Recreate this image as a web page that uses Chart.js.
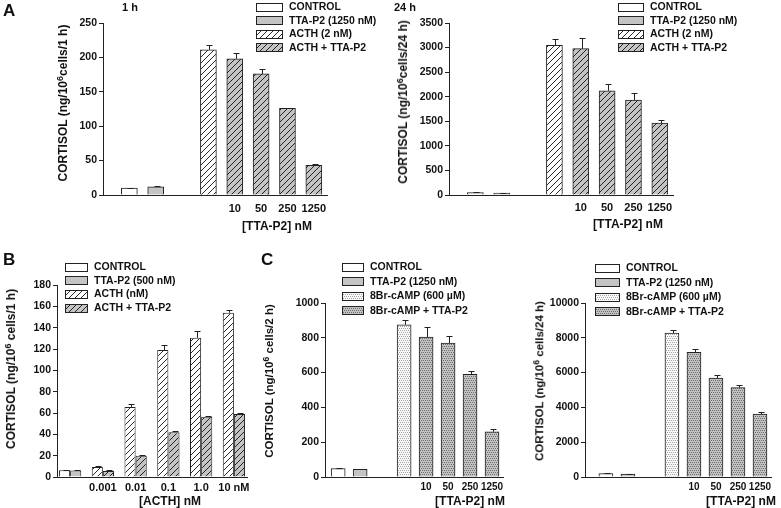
<!DOCTYPE html>
<html>
<head>
<meta charset="utf-8">
<script src="https://cdn.jsdelivr.net/npm/chart.js@4.4.0/dist/chart.umd.min.js"></script>
<style>
  body { margin: 0; background: #fff; }
  #page { position: relative; width: 781px; height: 508px; overflow: hidden;
    font-family: "Liberation Sans", Arial, sans-serif; font-weight: bold; color: #111; }
  #page canvas.plot { position: absolute; }
  .t { position: absolute; white-space: nowrap; line-height: 1; transform: translate(-50%, -50%); }
  .yt { position: absolute; white-space: nowrap; line-height: 1; transform: translate(-50%, -50%) rotate(-90deg); }
  .yt sup { font-size: 75%; vertical-align: 0; position: relative; top: -0.45em; }
  .letter { position: absolute; font-size: 17px; line-height: 1; }
  .leg { position: absolute; font-size: 10.5px; line-height: 1; white-space: nowrap; }
  .leg canvas { position: absolute; left: 0; }
  .leg span { position: absolute; }
</style>
</head>
<body>
<div id="page">
  <canvas class="plot" id="chartA1"></canvas>
  <canvas class="plot" id="chartA24"></canvas>
  <canvas class="plot" id="chartB"></canvas>
  <canvas class="plot" id="chartC2"></canvas>
  <canvas class="plot" id="chartC24"></canvas>

  <div class="letter" style="left:3px;top:2px">A</div>
  <div class="letter" style="left:3px;top:251px">B</div>
  <div class="letter" style="left:261px;top:251px">C</div>

  <div class="t" style="left:130px;top:7px;font-size:11px">1 h</div>
  <div class="t" style="left:405px;top:7px;font-size:11px">24 h</div>

  <div class="yt" style="left:63px;top:103px;font-size:12px">CORTISOL (ng/10<sup>6</sup>cells/1 h)</div>
  <div class="yt" style="left:403px;top:102px;font-size:12px">CORTISOL (ng/10<sup>6</sup>cells/24 h)</div>
  <div class="yt" style="left:11px;top:369px;font-size:12px">CORTISOL (ng/10<sup>6</sup> cells/1 h)</div>
  <div class="yt" style="left:270px;top:381px;font-size:11.5px">CORTISOL (ng/10<sup>6</sup> cells/2 h)</div>
  <div class="yt" style="left:540px;top:381px;font-size:11.5px">CORTISOL (ng/10<sup>6</sup> cells/24 h)</div>

  <div class="t" style="left:277px;top:226px;font-size:12px">[TTA-P2] nM</div>
  <div class="t" style="left:628px;top:224px;font-size:12px">[TTA-P2] nM</div>
  <div class="t" style="left:170px;top:501px;font-size:12px">[ACTH] nM</div>
  <div class="t" style="left:470px;top:501px;font-size:12px">[TTA-P2] nM</div>
  <div class="t" style="left:741px;top:501px;font-size:12px">[TTA-P2] nM</div>
</div>

<script>
// ---- data ----
// panel A: slots along the x axis (null = gap)
const aTickLabels = ['', '', '', '', '10', '50', '250', '1250']
const aSeriesNames = ['CONTROL', 'TTA-P2 (1250 nM)', 'ACTH (2 nM)', 'ACTH + TTA-P2']
const aSlotSeries = [0, 1, null, 2, 3, 3, 3, 3]
const a1hValues = [10.2, 12, null, 211, 198, 176, 126, 43]
const a1hErrors = [0.6, 0.6, null, 7, 8, 7.5, 1, 2.3]
const a24hValues = [48, 41, null, 3045, 2977, 2120, 1930, 1461]
const a24hErrors = [8, 8, null, 135, 217, 143, 143, 68]

// panel B: pairs of bars per ACTH dose
const bTickLabels = ['', '0.001', '0.01', '0.1', '1.0', '10 nM']
const bSeriesNames = ['CONTROL', 'TTA-P2 (500 nM)', 'ACTH (nM)', 'ACTH + TTA-P2']
const bLeftSeries = [0, 2, 2, 2, 2, 2]
const bRightSeries = [1, 3, 3, 3, 3, 3]
const bLeftValues = [6.3, 9.4, 65.7, 119, 130.5, 154]
const bLeftErrors = [0.3, 0.9, 2.3, 5, 6.5, 3]
const bRightValues = [6, 5.6, 20, 42, 56.4, 59]
const bRightErrors = [0.3, 0.6, 0.5, 1, 0.6, 1.4]

// panel C
const cTickLabels = ['', '', '', '', '10', '50', '250', '1250']
const cSeriesNames = ['CONTROL', 'TTA-P2 (1250 nM)', '8Br-cAMP (600 \u00b5M)', '8Br-cAMP + TTA-P2']
const cSlotSeries = [0, 1, null, 2, 3, 3, 3, 3]
const c2hValues = [48, 44, null, 875, 804, 769, 590, 260]
const c2hErrors = [3, 2, null, 25, 56, 42, 20, 15]
const c24hValues = [192, 173, null, 8270, 7170, 5690, 5135, 3615]
const c24hErrors = [10, 10, null, 150, 180, 180, 135, 95]

// ---- fills ----
function hatch(bg) {
  const c = document.createElement('canvas')
  c.width = 6; c.height = 6
  const g = c.getContext('2d')
  g.fillStyle = bg
  g.fillRect(0, 0, 6, 6)
  g.strokeStyle = '#111'
  g.lineWidth = 0.9
  g.beginPath()
  g.moveTo(-1, 7); g.lineTo(7, -1)
  g.moveTo(-1, 1); g.lineTo(1, -1)
  g.moveTo(5, 7); g.lineTo(7, 5)
  g.stroke()
  return g.createPattern(c, 'repeat')
}
// stipple: dots on a staggered 2px grid
function dots(bg, fg) {
  const c = document.createElement('canvas')
  c.width = 4; c.height = 4
  const g = c.getContext('2d')
  g.fillStyle = bg
  g.fillRect(0, 0, 4, 4)
  g.fillStyle = fg
  g.fillRect(0, 0, 1, 1)
  g.fillRect(2, 0, 1, 1)
  g.fillRect(1, 2, 1, 1)
  g.fillRect(3, 2, 1, 1)
  return g.createPattern(c, 'repeat')
}
const GREY = '#c4c4c4'
const hatchFills = ['#ffffff', GREY, hatch('#ffffff'), hatch(GREY)]
const dotFills = ['#ffffff', GREY, dots('#f8f8f8', '#a8a8a8'), dots('#c2c2c2', '#707070')]

// ---- error bars drawn on top of bars ----
const errorBars = {
  id: 'errorBars',
  afterDatasetsDraw(chart) {
    const ctx = chart.ctx
    const yScale = chart.scales.y
    ctx.save()
    ctx.strokeStyle = '#222'
    ctx.lineWidth = 1
    chart.data.datasets.forEach((ds, di) => {
      const meta = chart.getDatasetMeta(di)
      meta.data.forEach((bar, i) => {
        const p = ds.data[i]
        const e = ds.errors[i]
        if (!p || !e) return
        const x = Math.round(bar.x) + 1.5
        const top = Math.round(yScale.getPixelForValue(p.y + e)) + 0.5
        ctx.beginPath()
        ctx.moveTo(x, bar.y)
        ctx.lineTo(x, top)
        ctx.moveTo(x - 3, top)
        ctx.lineTo(x + 3, top)
        ctx.stroke()
      })
    })
    ctx.restore()
  }
}

// one dataset per series, points placed at their slot
function slotDatasets(names, slotSeries, values, errors, fills, thickness) {
  return names.map((name, s) => {
    const data = [], errs = []
    slotSeries.forEach((k, i) => {
      if (k === s && values[i] !== null) {
        data.push({x: i + 1, y: values[i]})
        errs.push(errors[i])
      }
    })
    return {
      label: name, data, errors: errs,
      backgroundColor: fills[s], borderColor: '#222', borderWidth: 1,
      grouped: false, barThickness: thickness
    }
  })
}

function pairDatasets() {
  const out = []
  bSeriesNames.forEach((name, s) => {
    const data = [], errs = []
    let stack = 'L'
    bLeftSeries.forEach((k, i) => {
      if (k === s) { data.push({x: i + 1, y: bLeftValues[i]}); errs.push(bLeftErrors[i]) }
    })
    bRightSeries.forEach((k, i) => {
      if (k === s) { data.push({x: i + 1, y: bRightValues[i]}); errs.push(bRightErrors[i]); stack = 'R' }
    })
    out.push({
      label: name, data, errors: errs, stack,
      backgroundColor: hatchFills[s], borderColor: '#222', borderWidth: 1,
      categoryPercentage: 0.68, barPercentage: 1
    })
  })
  return out
}

const fam = '"Liberation Sans", Arial, sans-serif'
const yFont = {family: fam, weight: 'bold', size: 10.5}

// box = canvas [left, top, w, h] on page, area = wanted plot area [l, t, r, b]
function makeChart(id, box, area, datasets, xMin, xMax, tickLabels, yMax, yStep, xPad, xFontSize) {
  const cv = document.getElementById(id)
  cv.style.left = box[0] + 'px'
  cv.style.top = box[1] + 'px'
  cv.width = box[2]
  cv.height = box[3]
  return new Chart(cv, {
    type: 'bar',
    data: {datasets},
    options: {
      responsive: false,
      animation: false,
      layout: {padding: {left: 0, top: area[1] - box[1], right: box[0] + box[2] - area[2], bottom: 0}},
      plugins: {legend: {display: false}, tooltip: {enabled: false}},
      scales: {
        x: {
          type: 'linear', min: xMin, max: xMax, offset: false,
          grid: {display: false, drawTicks: false},
          border: {display: true, color: '#222', width: 1},
          ticks: {
            font: {family: fam, weight: 'bold', size: xFontSize},
            color: '#111', padding: xPad, autoSkip: false, maxRotation: 0,
            callback: v => tickLabels[v - 1]
          },
          afterBuildTicks: s => {
            s.ticks = tickLabels.map((l, i) => ({value: i + 1})).filter(t => tickLabels[t.value - 1] !== '')
          },
          afterFit: s => { s.height = box[1] + box[3] - area[3] }
        },
        y: {
          min: 0, max: yMax,
          grid: {drawOnChartArea: false, drawTicks: true, tickLength: 4, color: '#222'},
          border: {display: true, color: '#222', width: 1},
          ticks: {stepSize: yStep, font: yFont, color: '#111', padding: 2, callback: v => String(v)},
          afterFit: s => { s.width = area[0] - box[0] }
        }
      }
    },
    plugins: [errorBars]
  })
}

makeChart('chartA1', [0, 0, 335, 240], [103, 23, 327, 195],
  slotDatasets(aSeriesNames, aSlotSeries, a1hValues, a1hErrors, hatchFills, 16),
  0, 8.5, aTickLabels, 250, 50, 7, 11)
makeChart('chartA24', [390, 0, 300, 240], [449, 23, 673, 195],
  slotDatasets(aSeriesNames, aSlotSeries, a24hValues, a24hErrors, hatchFills, 16),
  0, 8.5, aTickLabels, 3500, 500, 6, 11)
makeChart('chartB', [0, 250, 262, 258], [57, 285, 247, 477],
  pairDatasets(), 0.6, 6.4, bTickLabels, 180, 20, 4, 11)
makeChart('chartC2', [280, 250, 230, 258], [325, 303, 503, 477],
  slotDatasets(cSeriesNames, cSlotSeries, c2hValues, c2hErrors, dotFills, 14),
  0.4, 8.5, cTickLabels, 1000, 200, 4, 10)
makeChart('chartC24', [540, 250, 241, 258], [585, 303, 771, 477],
  slotDatasets(cSeriesNames, cSlotSeries, c24hValues, c24hErrors, dotFills, 14),
  0.05, 8.5, cTickLabels, 10000, 2000, 4, 10)

// ---- legends (html text, swatches filled with the same patterns) ----
function makeLegend(left, top, gap, swW, names, fills) {
  const page = document.getElementById('page')
  const box = document.createElement('div')
  box.className = 'leg'
  box.style.left = left + 'px'
  box.style.top = top + 'px'
  names.forEach((name, i) => {
    const sw = document.createElement('canvas')
    sw.width = swW; sw.height = 9
    sw.style.top = (i * gap - 4.5) + 'px'
    const g = sw.getContext('2d')
    g.fillStyle = fills[i]
    g.fillRect(0, 0, swW, 9)
    g.strokeStyle = '#222'
    g.strokeRect(0.5, 0.5, swW - 1, 8)
    box.appendChild(sw)
    const tx = document.createElement('span')
    tx.textContent = name
    tx.style.left = (swW + 6) + 'px'
    tx.style.top = (i * gap - 6) + 'px'
    box.appendChild(tx)
  })
  page.appendChild(box)
}
makeLegend(256, 7, 13.5, 27, aSeriesNames, hatchFills)
makeLegend(618, 7, 13.5, 26, aSeriesNames, hatchFills)
makeLegend(65, 267, 13.7, 23, bSeriesNames, hatchFills)
makeLegend(342, 267, 14.6, 22, cSeriesNames, dotFills)
makeLegend(595, 268, 14.6, 25, cSeriesNames, dotFills)
</script>
</body>
</html>
